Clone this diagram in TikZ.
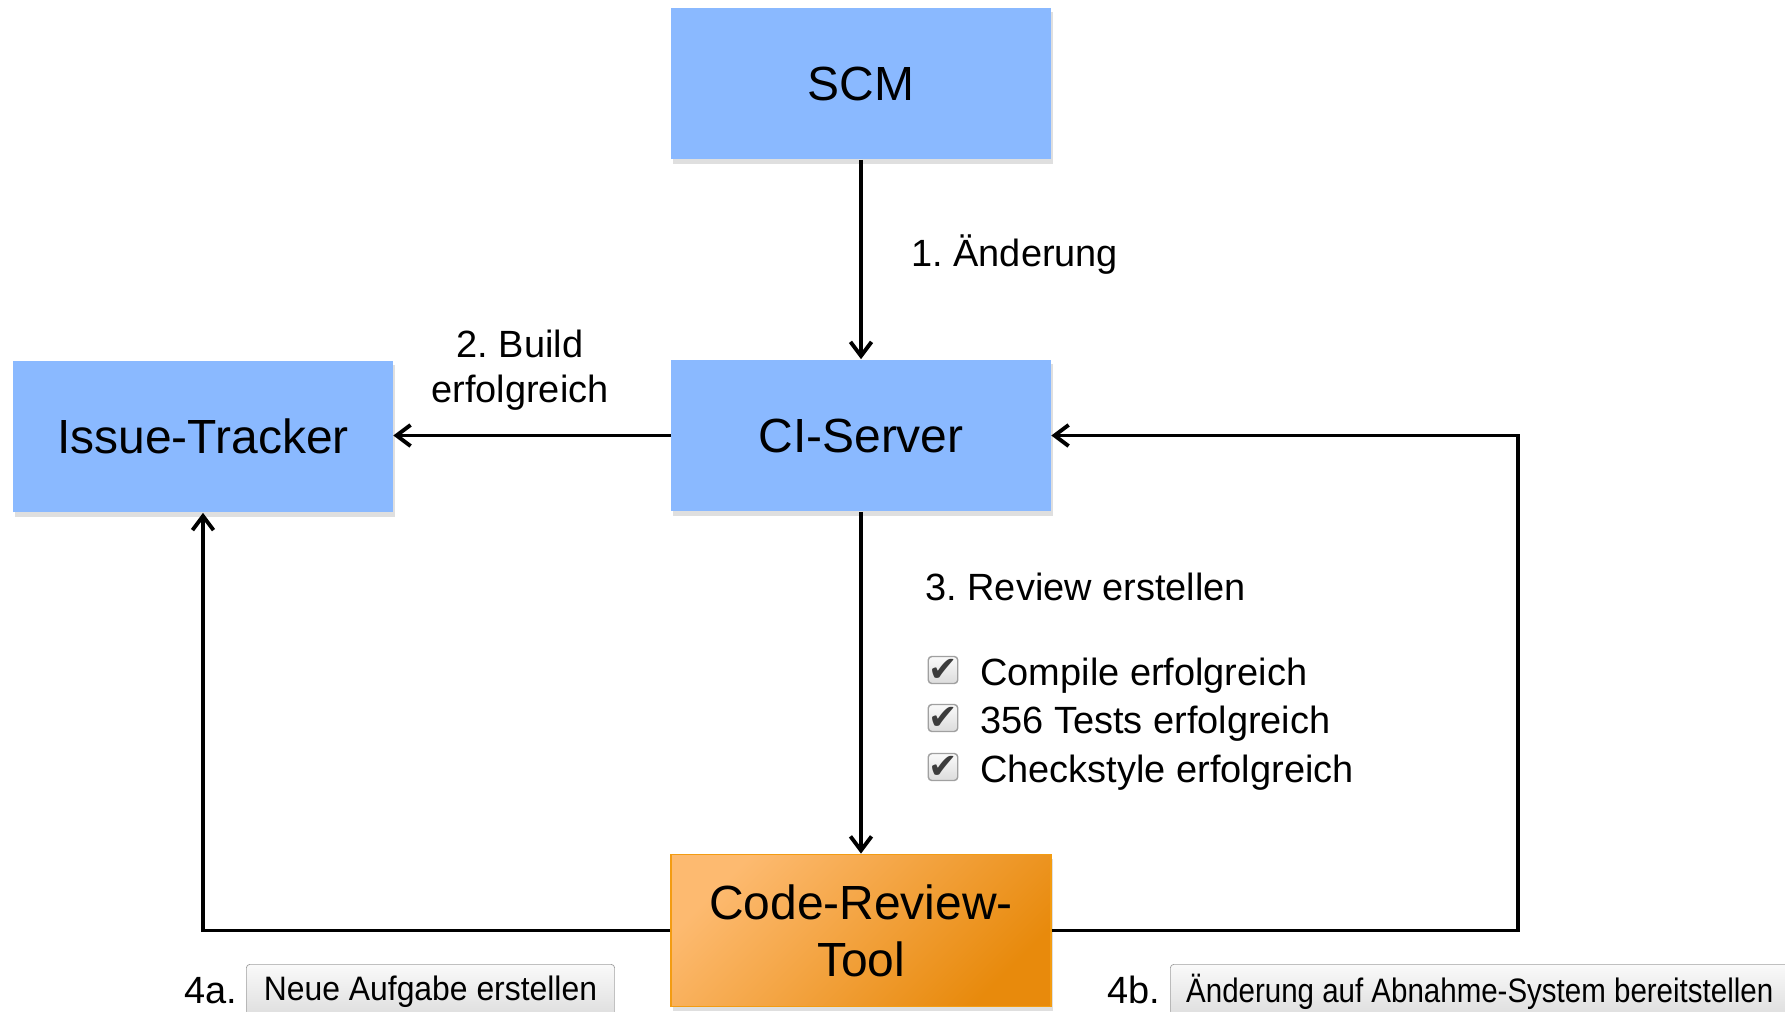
\documentclass[tikz,border=0pt]{standalone}
\usepackage{fontspec}
\setmainfont{Liberation Sans}
\newfontfamily\btnfonta[FakeStretch=0.94]{Liberation Sans}
\newfontfamily\btnfontb[FakeStretch=0.87]{Liberation Sans}
\newfontfamily\symfont{DejaVu Sans}
\usetikzlibrary{arrows.meta, shadows, positioning}
\definecolor{sysblue}{RGB}{138,185,255}
\definecolor{toollight}{RGB}{253,186,112}
\definecolor{tooldark}{RGB}{232,138,12}
\definecolor{toolborder}{RGB}{243,156,18}
\definecolor{btnborder}{RGB}{160,160,160}
\definecolor{btntop}{RGB}{250,250,250}
\definecolor{btnbottom}{RGB}{220,220,220}
\definecolor{checkdark}{RGB}{60,60,60}
\frenchspacing

\begin{document}
\begin{tikzpicture}[x=0.02cm, y=-0.02cm,
		sys/.style={fill=sysblue, minimum width=7.6cm, minimum height=3.04cm, inner sep=0pt, align=center,
			font=\fontsize{27.3}{32.4}\selectfont,
			drop shadow={opacity=0.25, shadow xshift=1pt, shadow yshift=-2.5pt}},
		tool/.style={sys, draw=toolborder, line width=1pt, top color=toollight, bottom color=tooldark, shading angle=45},
		flow/.style={line width=2.2pt, -{Straight Barb[length=8pt, width=12pt]}},
		lbl/.style={font=\fontsize{21.6}{25.6}\selectfont, inner sep=0pt, align=center},
		btn/.style={draw=btnborder, rounded corners=2pt, top color=btntop, bottom color=btnbottom,
			minimum height=1.1cm, anchor=north west},
		chk/.style={draw=btnborder, line width=0.8pt, rounded corners=2pt, top color=btntop, bottom color=btnbottom,
			minimum size=0.54cm, inner sep=0pt, text=checkdark, font=\symfont\fontsize{20}{20}\selectfont}]
		\clip (0,0) rectangle (1785,1011);
		\node [sys] at (861,83.5) (scm) {SCM};
		\node [sys] at (861,435.5) (ci) {CI-Server};
		\node [sys] at (203,436.5) (issue) {Issue-Tracker};
		\node [tool] at (861,930.5) (crt) {Code-Review-\\Tool};

		\draw [flow] (scm) -- (ci);
		\draw [flow] (ci.west) -- (issue.east |- ci.west);
		\draw [flow] (ci) -- (crt);
		\draw [flow] (crt.west) -| (issue.south);
		\draw [flow] (crt.east) -- ++(466,0) |- (ci.east);

		\node [lbl, anchor=base west] at (911,266) (aend) {1. Änderung};
		\node [lbl] at (520,370) (build) {2. Build\\erfolgreich};
		\node [lbl, anchor=base west] at (925,600) (review) {3. Review erstellen};

		\node [chk] at (943,670) (c1) {✔};
		\node [chk] at (943,718) (c2) {✔};
		\node [chk] at (943,767) (c3) {✔};
		\node [lbl, anchor=base west] at (980,685) (t1) {Compile erfolgreich};
		\node [lbl, anchor=base west] at (980,733) (t2) {356 Tests erfolgreich};
		\node [lbl, anchor=base west] at (980,782) (t3) {Checkstyle erfolgreich};

		\node [lbl, anchor=base west] at (184,1003) (n4a) {4a.};
		\node [btn, inner xsep=10pt, font=\btnfonta\fontsize{19.3}{22}\selectfont] at (246,964) (b4a) {Neue Aufgabe erstellen};
		\node [lbl, anchor=base west] at (1107,1003) (n4b) {4b.};
		\node [btn, inner xsep=9pt, font=\btnfontb\fontsize{19.3}{22}\selectfont] at (1170,964) (b4b) {Änderung auf Abnahme-System bereitstellen};
	\end{tikzpicture}
\end{document}
